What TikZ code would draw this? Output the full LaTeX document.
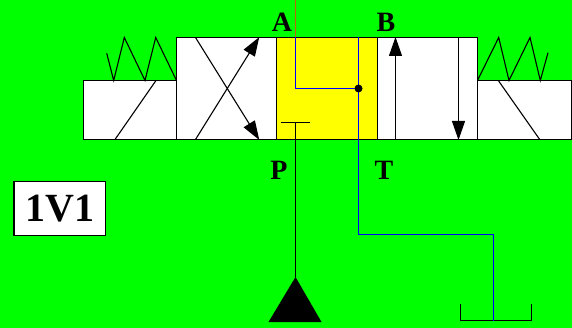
\documentclass[tikz,border=0pt]{standalone}
\usepackage{fontspec}
\setmainfont{Liberation Serif}
\usetikzlibrary{arrows.meta, positioning}
\definecolor{fondo}{RGB}{0,255,0}
\definecolor{amarillo}{RGB}{255,255,0}
\definecolor{linea}{RGB}{190,100,10}
\definecolor{azul}{RGB}{0,0,255}
\tikzset{
  bloque/.style={draw, fill=white, line width=1.1pt, minimum width=100.33pt, minimum height=102pt, inner sep=0pt, outer sep=0pt},
  bobina/.style={draw, fill=white, line width=1.1pt, minimum width=93pt, minimum height=59pt, inner sep=0pt, outer sep=0pt},
  puerto/.style={font=\bfseries\fontsize{28}{28}\selectfont, inner sep=0pt},
  fina/.style={line width=1.1pt},
  via/.style={line width=1.1pt, -{Triangle[length=19pt, width=13pt]}, shorten >=-0.5pt},
  tubo/.style={line width=1.2pt, azul}
}
\begin{document}
\begin{tikzpicture}[x=1pt, y=-1pt]
% fondo
\fill[fondo] (0,0) rectangle (572,328);
\useasboundingbox (0,0) rectangle (572,328);

% posiciones de la valvula
\node [bloque, anchor=north west] (b1) at (176.5,37.5) {};
\node [bloque, fill=amarillo, right=0pt of b1] (b2) {};
\node [bloque, right=0pt of b2] (b3) {};

% bobinas
\node [bobina, anchor=south east] (s1) at (b1.south west) {};
\node [bobina, anchor=south west, minimum width=94pt] (s2) at (b3.south east) {};
\draw [fina] (115,139.5) -- (156,80.5);
\draw [fina] (498.3,80.5) -- (539.7,139.5);

% muelles
\draw [fina] (106.7,53.3) -- (113.7,80.5) -- (124.3,37.5) -- (145,80.5) -- (155.7,37.5) -- (176.5,80.5);
\draw [fina] (477.5,80.5) -- (498.7,37.5) -- (509,80.5) -- (530,37.5) -- (540.3,80.5) -- (548,52.7);

% flechas
\draw [via] (195.5,139.5) -- (259,37.5);
\draw [via] (195.5,37.5) -- (259,139.5);
\draw [via] (395.5,139.5) -- (395.5,37.5);
\draw [via] (458.5,37.5) -- (458.5,139.5);

% letras
\node [puerto] (lA) at (282,22) {A};
\node [puerto] (lB) at (386,22) {B};
\node [puerto] (lP) at (279,170) {P};
\node [puerto] (lT) at (384,170) {T};

% etiqueta
\node [draw, fill=white, line width=1.1pt, minimum width=91.5pt, minimum height=54pt, inner sep=0pt, font=\bfseries\fontsize{40}{40}\selectfont] (nom) at (59.75,208.5) {1V1};

% puntos de union
\coordinate (pA) at (295.5,0);
\coordinate (pA1) at (295.5,37.5);
\coordinate (qA) at (295.5,88.5);
\coordinate (cruce) at (358.5,88.5);
\coordinate (qT) at (358.5,37.5);
\coordinate (t1) at (358.5,234.5);
\coordinate (t2) at (493.5,234.5);
\coordinate (t3) at (493.5,320.5);
\coordinate (pP) at (295.5,122.5);
\coordinate (pb1) at (281,122.5);
\coordinate (pb2) at (310,122.5);
\coordinate (fP) at (295.5,277);
\coordinate (f1) at (268.5,322);
\coordinate (f2) at (321.5,322);
\coordinate (d1) at (460.5,304);
\coordinate (d2) at (460.5,320.5);
\coordinate (d3) at (531.5,320.5);
\coordinate (d4) at (531.5,304);

% lineas
\draw [line width=1.5pt, linea] (pA) -- (pA1);
\draw [tubo] (pA1) -- (qA) -- (cruce);
\draw [fina] (d1) -- (d2) -- (d3) -- (d4);
\draw [tubo] (qT) -- (t1) -- (t2) -- (t3);
\draw [fina] (pb1) -- (pb2);
\draw [fina] (pP) -- (fP);
\node [circle, fill=black, minimum size=8pt, inner sep=0pt] (nudo) at (cruce) {};

% presion
\fill (fP) -- (f1) -- (f2) -- cycle;
\end{tikzpicture}
\end{document}
